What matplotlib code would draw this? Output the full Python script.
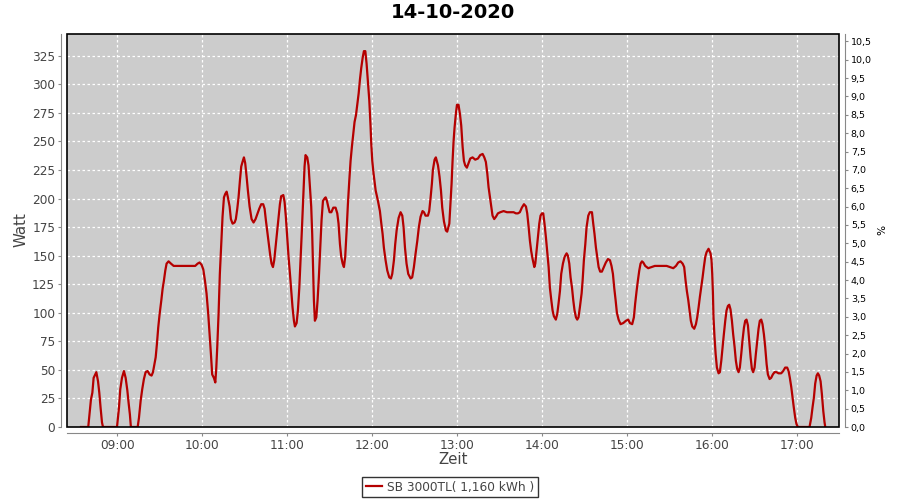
import matplotlib
matplotlib.use("Agg")
from matplotlib import pyplot as plt
from matplotlib.patches import Rectangle
from matplotlib.ticker import FixedLocator, FuncFormatter

# Messzeitpunkte (Minuten seit Mitternacht) und Leistung in Watt
minuten = [
    514.4, 519.5, 520.5, 521.4, 522.4, 523.3, 525.2, 526.4, 527.3, 528.2, 529.2, 529.9,
    539.8, 541.2, 542.1, 543.3, 544.7, 545.9, 547.1, 548.0, 548.9, 549.6, 554.4, 555.3,
    556.5, 557.6, 558.8, 560.0, 561.4, 562.8, 564.2, 565.2, 566.1, 567.1, 568.0, 568.9,
    569.9, 571.1, 572.0, 572.9, 573.9, 574.8, 576.2, 577.9, 579.8, 585.2, 595.0,
    596.7, 598.1, 599.5, 600.7, 601.9, 603.0, 604.2, 605.2, 606.1, 607.0, 608.2, 609.2,
    609.9, 610.6, 611.5, 612.4, 613.4, 614.3, 615.3, 616.2, 617.2, 618.1, 619.3, 620.2,
    621.4, 622.8, 623.7, 624.7, 625.6, 626.6, 627.5, 628.4, 629.4, 630.3, 631.3, 632.2,
    633.4, 634.8, 636.2, 637.6, 639.0, 640.2, 641.6, 643.0, 644.0, 644.9, 646.1, 647.0,
    648.0, 648.9, 649.9, 650.8, 651.7, 652.9, 653.9, 654.8, 655.7, 657.2, 658.1, 659.0,
    660.0, 660.9, 661.9, 662.8, 663.7, 664.7, 665.4, 666.6, 667.5, 668.5, 669.4, 670.3,
    671.3, 672.2, 672.9, 674.1, 675.0, 676.0, 676.9, 677.6, 678.3, 678.8, 679.5, 680.5,
    681.4, 682.3, 683.3, 684.2, 685.2, 686.3,
    687.1, 688.0, 688.9, 689.9, 691.1, 692.5, 694.1, 695.3, 696.2, 697.2, 698.1, 699.1,
    700.0, 700.9, 701.9, 702.8, 703.8, 704.7, 705.6, 706.6, 707.5, 708.5, 709.4, 710.4,
    711.3, 712.2, 713.2, 714.1, 715.1, 716.0, 717.0, 717.9, 718.8, 719.3, 720.0, 720.9,
    722.4, 724.0, 725.4, 726.4, 727.3, 728.2, 729.4, 730.6, 732.0, 733.2, 734.1, 735.3,
    736.2, 737.2, 738.6, 740.0, 741.2, 742.1, 743.1, 744.2, 745.4, 747.1, 748.2, 749.4,
    750.6, 751.8, 752.9, 754.1, 755.5, 756.5, 757.6, 759.3, 760.2, 761.2, 762.1, 762.8,
    764.0, 764.9, 766.4, 767.5, 768.5, 769.4, 770.6, 772.0, 772.9, 774.4, 775.3, 776.0,
    776.7, 777.4, 778.1, 779.1, 779.8, 780.9,
    781.9, 782.8, 783.8, 784.7, 785.6, 786.8, 788.0, 789.2, 790.8, 792.7, 794.6, 796.2,
    797.9, 799.1, 800.2, 801.2, 802.1, 803.1, 804.0, 804.9, 806.1, 807.3, 808.7, 810.4,
    812.7, 815.1, 817.4, 819.8, 821.4, 822.8, 824.2, 825.6, 827.1, 828.5, 829.4, 830.4,
    831.3, 832.2, 833.2, 834.4, 835.1, 836.0, 837.0, 837.9, 838.8, 839.8, 840.7, 841.6,
    842.6, 843.5, 844.5, 845.4, 846.4, 847.3, 848.2, 849.6, 850.6, 851.5, 852.5, 853.4,
    854.6, 855.8, 857.2, 858.1, 859.1, 860.0, 861.0, 861.9, 862.8, 863.8, 864.7, 865.6,
    866.6, 867.8,
    868.5, 869.4, 870.4, 871.3, 872.5, 873.6, 875.1, 876.0, 876.9, 877.9, 878.8, 879.8,
    880.9, 882.1, 883.5, 884.9, 886.4, 887.8, 888.9, 889.9, 890.8, 891.8, 892.7, 893.9,
    895.3, 897.2, 899.1, 900.7, 901.9, 903.5, 904.7, 905.6, 906.6, 907.5, 908.5, 909.4,
    910.4, 911.3, 912.7, 914.8, 917.2, 919.5, 923.1, 927.8, 930.1, 932.5, 934.4, 936.0,
    937.6, 939.1, 940.2, 941.2, 942.1, 943.1, 944.0, 944.9, 945.9, 947.3, 948.5, 949.4,
    950.4, 951.3, 952.2, 953.2, 954.1, 955.1, 956.0, 957.4,
    958.8, 959.5, 960.0, 960.5, 960.9, 961.6, 962.4, 963.3, 964.5, 965.4, 966.4, 967.3,
    968.2, 969.2, 970.1, 971.1, 972.0, 972.9, 973.9, 974.8, 975.8, 976.7, 977.6, 978.6,
    979.5, 980.5, 981.4, 982.4, 983.3, 984.2, 985.2, 986.1, 987.1, 988.0, 988.9, 989.9,
    990.8, 991.8, 992.7, 993.6, 994.6, 995.5, 996.5, 997.4, 998.4, 999.3, 1000.5, 1001.6,
    1002.8, 1004.0, 1005.4, 1006.8, 1008.7, 1010.1, 1011.5, 1012.9, 1013.9, 1014.8, 1015.8, 1016.7,
    1017.6, 1018.6, 1019.5, 1020.5, 1028.7, 1029.9, 1030.8, 1031.8, 1032.7, 1033.7, 1034.6, 1035.5,
    1036.5, 1037.4, 1038.4, 1039.3, 1039.8,
]
watt = [
    0, 0, 13, 24, 30, 43, 48, 40, 30, 17, 4, 0,
    0, 17, 33, 43, 49, 43, 32, 21, 11, 0, 0, 8,
    23, 33, 42, 48, 49, 46, 45, 48, 54, 61, 73, 87,
    99, 111, 121, 128, 137, 143, 145, 143, 141, 141, 141,
    143, 144, 142, 138, 128, 117, 99, 81, 64, 46, 43, 39,
    52, 71, 99, 134, 160, 184, 201, 204, 206, 201, 193, 182,
    178, 179, 182, 191, 201, 216, 228, 232, 236, 231, 219, 207,
    193, 182, 179, 182, 187, 191, 195, 195, 191, 181, 169, 160,
    150, 143, 140, 146, 157, 172, 184, 195, 202, 203, 197, 184,
    166, 149, 134, 119, 105, 93, 88, 91, 102, 122, 146, 172,
    201, 228, 238, 236, 229, 210, 193, 169, 134, 111, 93, 96,
    111, 131, 157, 181, 198, 200,
    201, 198, 193, 188, 188, 192, 192, 187, 178, 160, 149, 143,
    140, 149, 172, 195, 216, 233, 245, 257, 267, 273, 282, 292,
    304, 314, 323, 329, 329, 318, 301, 286, 263, 248, 233, 222,
    207, 198, 189, 178, 169, 157, 146, 137, 131, 130, 134, 146,
    160, 172, 183, 188, 185, 175, 157, 143, 134, 130, 131, 140,
    152, 163, 175, 184, 189, 188, 185, 185, 189, 201, 213, 225,
    234, 236, 229, 219, 207, 192, 180, 172, 171, 178, 198, 213,
    233, 250, 262, 275, 282, 282,
    274, 264, 245, 233, 229, 227, 231, 235, 236, 234, 235, 238,
    239, 236, 232, 222, 210, 201, 193, 185, 182, 184, 187, 188,
    189, 188, 188, 188, 187, 187, 188, 192, 195, 193, 187, 175,
    163, 154, 147, 140, 143, 154, 166, 178, 185, 187, 187, 178,
    166, 154, 140, 122, 111, 102, 97, 94, 99, 108, 119, 134,
    143, 149, 152, 150, 143, 131, 122, 111, 102, 96, 94, 96,
    105, 117,
    128, 146, 160, 175, 185, 188, 188, 178, 169, 157, 149, 140,
    136, 136, 140, 144, 147, 146, 141, 134, 122, 111, 100, 94,
    90, 91, 93, 94, 91, 90, 96, 108, 119, 128, 137, 143,
    145, 144, 141, 139, 140, 141, 141, 141, 140, 139, 141, 144,
    145, 143, 140, 128, 119, 111, 102, 93, 88, 86, 90, 96,
    105, 114, 122, 131, 140, 149, 153, 156,
    152, 146, 134, 117, 96, 79, 64, 52, 47, 48, 58, 70,
    81, 93, 102, 106, 107, 103, 93, 81, 70, 58, 51, 48,
    52, 64, 76, 87, 93, 94, 89, 76, 61, 51, 48, 52,
    64, 76, 86, 93, 94, 90, 81, 70, 55, 46, 42, 43,
    46, 48, 48, 47, 47, 49, 52, 52, 49, 43, 35, 26,
    17, 8, 2.5, 0, 0, 8, 17, 26, 38, 45, 47, 45,
    40, 29, 14, 4, 0,
]

titel = "14-10-2020"
serie_name = "SB 3000TL( 1,160 kWh )"
stunden = [9, 10, 11, 12, 13, 14, 15, 16, 17]
watt_ticks = list(range(0, 326, 25))
prozent_ticks = [i / 2 for i in range(0, 22)]

grau = "#444444"
achse = "#888888"

fig = plt.figure(figsize=(9, 5), dpi=100, facecolor="white")
ax = fig.add_axes([67 / 900, 73 / 500, 772 / 900, 393 / 500])
ax.set_facecolor("#cccccc")

x = [m / 60 for m in minuten]
linie, = ax.plot(x, watt, color="#b50000", lw=1.6, zorder=3, label=serie_name)

ax.set_xlim(504.5 / 60, 1049.5 / 60)
ax.set_ylim(0, 344.0)
ax.xaxis.set_major_locator(FixedLocator(stunden))
ax.xaxis.set_major_formatter(FuncFormatter(lambda v, p: "%02d:00" % round(v)))
ax.yaxis.set_major_locator(FixedLocator(watt_ticks))
ax.grid(True, color="white", lw=0.9, linestyle=(0, (2, 2)), zorder=1)
ax.set_axisbelow(True)

for s in ["left", "bottom"]:
    ax.spines[s].set_position(("outward", 4))
    ax.spines[s].set_color(achse)
for s in ["top", "right"]:
    ax.spines[s].set_visible(False)
ax.tick_params(axis="both", colors=achse, labelcolor=grau, labelsize=8.7,
               length=2.5, width=0.8, pad=2)

ax.add_patch(Rectangle((0, 0), 1, 1, transform=ax.transAxes, fill=False,
                       edgecolor="black", lw=1.2, zorder=5, clip_on=False))

ax2 = ax.twinx()
ax2.set_ylim(0, 10.70)
ax2.yaxis.set_major_locator(FixedLocator(prozent_ticks))
ax2.yaxis.set_major_formatter(FuncFormatter(lambda v, p: ("%.1f" % v).replace(".", ",")))
for s in ["left", "bottom", "top"]:
    ax2.spines[s].set_visible(False)
ax2.spines["right"].set_position(("outward", 4))
ax2.spines["right"].set_color(achse)
ax2.tick_params(axis="y", colors=achse, labelcolor="black", labelsize=6.8,
                length=2.5, width=0.8, pad=2)

fig.text(453 / 900, 1 - 13 / 500, titel, ha="center", va="center",
         fontsize=14, fontweight="bold", color="black")
fig.text(21 / 900, 1 - 230 / 500, "Watt", rotation=90, ha="center", va="center",
         fontsize=10.8, color=grau)
fig.text(453 / 900, 1 - 460 / 500, "Zeit", ha="center", va="center",
         fontsize=10.8, color=grau)
fig.text(882 / 900, 1 - 230 / 500, "%", rotation=90, ha="center", va="center",
         fontsize=7.6, color="black")

leg = fig.legend(handles=[linie], loc="center", bbox_to_anchor=(450 / 900, 1 - 487 / 500),
                 fontsize=8.7, frameon=True, fancybox=False, handlelength=1.3,
                 handletextpad=0.4, borderpad=0.3, borderaxespad=0)
leg.get_frame().set_edgecolor("black")
leg.get_frame().set_linewidth(1.0)
for t in leg.get_texts():
    t.set_color(grau)

plt.savefig("out.png", dpi=100, facecolor="white")
